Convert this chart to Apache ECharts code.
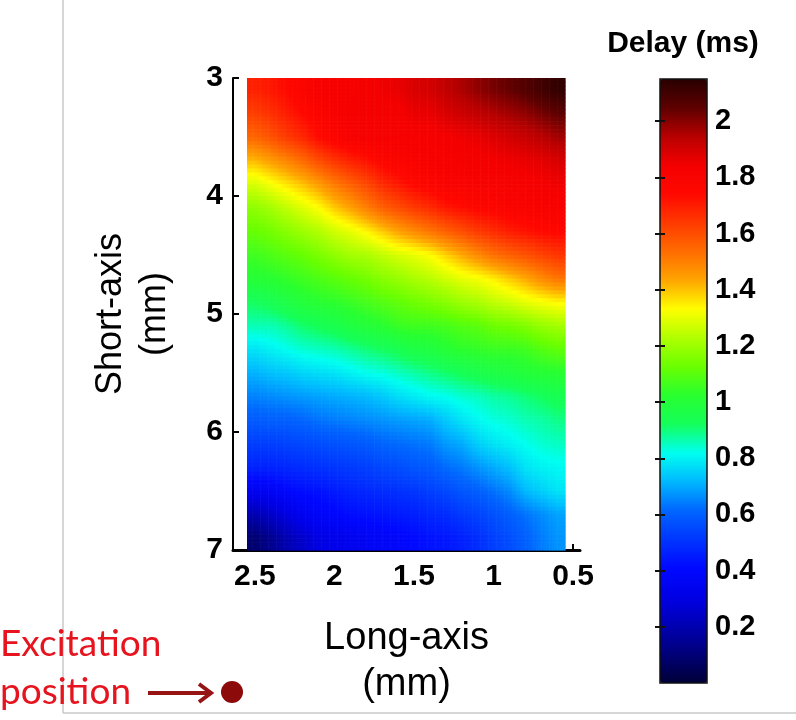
<!DOCTYPE html>
<html>
<head>
<meta charset="utf-8">
<script src="https://cdn.jsdelivr.net/npm/echarts@6/dist/echarts.min.js"></script>
<style>
html,body{margin:0;padding:0;background:#fff;}
#chart{width:796px;height:720px;}
</style>
</head>
<body>
<div id="chart"></div>
<script>
// ---- data ----
const longAxisMm = [2.5, 2.4, 2.3, 2.2, 2.1, 2.0, 1.9, 1.8, 1.7, 1.6, 1.5, 1.4, 1.3, 1.2, 1.1, 1.0, 0.9, 0.8, 0.7, 0.6];
const shortAxisMm = [3.1, 3.3, 3.5, 3.7, 3.9, 4.1, 4.3, 4.5, 4.7, 4.9, 5.1, 5.3, 5.5, 5.7, 5.9, 6.1, 6.3, 6.5, 6.7, 6.9];
// delay (ms): one row per short-axis value, one column per long-axis value
const delayMs = [
  [1.69,1.71,1.74,1.78,1.81,1.82,1.82,1.83,1.85,1.86,1.89,1.90,1.93,1.96,1.99,2.02,2.04,2.07,2.10,2.13],
  [1.63,1.66,1.70,1.74,1.78,1.81,1.83,1.83,1.83,1.83,1.86,1.86,1.89,1.91,1.93,1.95,1.97,1.99,2.02,2.05],
  [1.55,1.59,1.64,1.68,1.74,1.78,1.81,1.82,1.82,1.82,1.83,1.83,1.84,1.85,1.86,1.88,1.90,1.92,1.94,1.97],
  [1.41,1.45,1.49,1.54,1.60,1.65,1.69,1.72,1.76,1.78,1.80,1.81,1.82,1.83,1.83,1.84,1.85,1.86,1.87,1.89],
  [1.28,1.32,1.36,1.40,1.45,1.51,1.56,1.61,1.67,1.71,1.75,1.77,1.80,1.80,1.81,1.81,1.82,1.83,1.84,1.85],
  [1.18,1.21,1.25,1.29,1.33,1.39,1.44,1.50,1.56,1.60,1.64,1.67,1.71,1.73,1.75,1.76,1.78,1.79,1.80,1.81],
  [1.12,1.14,1.17,1.20,1.23,1.27,1.30,1.34,1.39,1.44,1.48,1.52,1.56,1.60,1.64,1.67,1.70,1.72,1.74,1.75],
  [1.06,1.08,1.10,1.12,1.15,1.18,1.21,1.22,1.25,1.28,1.30,1.33,1.38,1.43,1.48,1.53,1.56,1.59,1.62,1.65],
  [1.01,1.02,1.04,1.06,1.08,1.10,1.12,1.14,1.17,1.19,1.22,1.24,1.27,1.30,1.32,1.35,1.39,1.43,1.48,1.52],
  [0.92,0.94,0.97,1.00,1.02,1.03,1.05,1.07,1.09,1.11,1.13,1.15,1.17,1.20,1.22,1.25,1.27,1.30,1.32,1.34],
  [0.86,0.86,0.88,0.91,0.93,0.95,0.98,1.00,1.02,1.05,1.06,1.06,1.07,1.09,1.10,1.13,1.14,1.16,1.19,1.21],
  [0.78,0.80,0.82,0.84,0.85,0.86,0.88,0.90,0.92,0.94,0.97,0.98,1.01,1.03,1.04,1.05,1.05,1.06,1.09,1.11],
  [0.71,0.73,0.74,0.76,0.77,0.78,0.80,0.82,0.83,0.85,0.87,0.89,0.91,0.93,0.95,0.97,0.98,1.00,1.01,1.02],
  [0.65,0.66,0.67,0.68,0.69,0.70,0.71,0.72,0.74,0.77,0.79,0.81,0.82,0.84,0.85,0.87,0.88,0.90,0.92,0.94],
  [0.59,0.60,0.60,0.61,0.63,0.64,0.65,0.66,0.67,0.68,0.69,0.70,0.74,0.78,0.81,0.83,0.84,0.86,0.87,0.89],
  [0.53,0.53,0.54,0.55,0.56,0.57,0.58,0.59,0.61,0.62,0.63,0.64,0.68,0.70,0.75,0.78,0.80,0.82,0.84,0.85],
  [0.47,0.47,0.48,0.49,0.50,0.51,0.52,0.53,0.55,0.56,0.58,0.59,0.62,0.64,0.67,0.70,0.73,0.78,0.80,0.81],
  [0.35,0.37,0.40,0.42,0.43,0.45,0.47,0.48,0.49,0.50,0.51,0.53,0.55,0.58,0.60,0.63,0.66,0.72,0.75,0.78],
  [0.20,0.25,0.30,0.35,0.38,0.40,0.42,0.43,0.44,0.45,0.46,0.48,0.49,0.52,0.54,0.57,0.60,0.63,0.66,0.69],
  [0.09,0.14,0.20,0.25,0.30,0.32,0.34,0.36,0.38,0.39,0.41,0.43,0.44,0.46,0.49,0.53,0.56,0.60,0.64,0.67]
];
const xTickValues = [2.5, 2, 1.5, 1, 0.5];
const yTickValues = [3, 4, 5, 6, 7];
const colorbarTicks = [0.2, 0.4, 0.6, 0.8, 1, 1.2, 1.4, 1.6, 1.8, 2];
const delayRange = [0, 2.15];
const jetPalette = ['#000038','#000078','#0000b4','#0000e6','#0008ff','#0036ff','#0066ff','#00b8ff','#00fff0','#14ff5a','#28ff30','#6aff00','#b0ff00','#ffff00','#ffa500','#ff6c00','#ff3a00','#ff0800','#f40000','#b80000','#5e0000','#280000'];

// ---- build series data ----
const nRows = shortAxisMm.length, nCols = longAxisMm.length;
const cells = [];
for (let j = 0; j < nRows; j++) {
  for (let i = 0; i < nCols; i++) {
    cells.push([longAxisMm[i], shortAxisMm[j], delayMs[j][i], j, i]);
  }
}
const halfW = Math.abs(longAxisMm[0] - longAxisMm[1]) / 2;
const halfH = Math.abs(shortAxisMm[1] - shortAxisMm[0]) / 2;

// smooth ("interp") shading inside each cell, like MATLAB's shading interp
function shade(fj, fi) {
  fj = Math.max(0, Math.min(nRows - 1, fj));
  fi = Math.max(0, Math.min(nCols - 1, fi));
  const j0 = Math.floor(fj), i0 = Math.floor(fi);
  const j1 = Math.min(j0 + 1, nRows - 1), i1 = Math.min(i0 + 1, nCols - 1);
  const tj = fj - j0, ti = fi - i0;
  const top = (1 - ti) * delayMs[j0][i0] + ti * delayMs[j0][i1];
  const bot = (1 - ti) * delayMs[j1][i0] + ti * delayMs[j1][i1];
  return (1 - tj) * top + tj * bot;
}
function colorOf(v) {
  const t = Math.max(0, Math.min(1, (v - delayRange[0]) / (delayRange[1] - delayRange[0])));
  return echarts.color.lerp(t, jetPalette);
}
const SUB = 6;

const FONT = '"Liberation Sans", Arial, sans-serif';
const chart = echarts.init(document.getElementById('chart'), null, {renderer: 'canvas'});

chart.setOption({
  backgroundColor: '#ffffff',
  animation: false,
  title: {
    text: 'Delay (ms)',
    left: 683, top: 29, textAlign: 'center', padding: 0,
    textStyle: {fontFamily: FONT, fontSize: 30, fontWeight: 'bold', color: '#000'}
  },
  grid: [
    {left: 233, top: 78, width: 347, height: 472, show: false},
    {left: 660, top: 79, width: 47, height: 604, show: true, z: 10,
     borderColor: '#111', borderWidth: 1.5, backgroundColor: 'transparent'}
  ],
  xAxis: [
    {
      type: 'value', gridIndex: 0, min: 0.456, max: 2.638, inverse: true,
      splitLine: {show: false},
      axisLine: {show: true, onZero: false, lineStyle: {color: '#000', width: 3}},
      axisTick: {show: true, inside: true, length: 6, customValues: xTickValues, lineStyle: {color: '#000', width: 2}},
      axisLabel: {customValues: xTickValues, fontFamily: FONT, fontSize: 30, fontWeight: 'bold', color: '#000', margin: 12},
      name: 'Long-axis\n(mm)', nameLocation: 'middle', nameGap: 66,
      nameTextStyle: {fontFamily: FONT, fontSize: 38, lineHeight: 46, color: '#000'}
    },
    {
      type: 'value', gridIndex: 1, min: 0, max: 1, show: false
    }
  ],
  yAxis: [
    {
      type: 'value', gridIndex: 0, min: 3, max: 7, interval: 1, inverse: true,
      splitLine: {show: false},
      axisLine: {show: true, onZero: false, lineStyle: {color: '#000', width: 2}},
      axisTick: {show: true, inside: true, length: 6, customValues: yTickValues, lineStyle: {color: '#000', width: 2}},
      axisLabel: {customValues: yTickValues, fontFamily: FONT, fontSize: 30, fontWeight: 'bold', color: '#000', margin: 10},
      name: 'Short-axis\n(mm)', nameLocation: 'middle', nameGap: 56, nameRotate: 90,
      nameTextStyle: {fontFamily: FONT, fontSize: 36, lineHeight: 44, color: '#000'}
    },
    {
      type: 'value', gridIndex: 1, min: delayRange[0], max: delayRange[1], position: 'right', z: 11,
      splitLine: {show: false},
      axisLine: {show: false},
      axisTick: {show: true, inside: true, length: 5, customValues: colorbarTicks, lineStyle: {color: '#111', width: 2}},
      axisLabel: {customValues: colorbarTicks, fontFamily: FONT, fontSize: 29, fontWeight: 'bold', color: '#000', margin: 8}
    },
    {
      type: 'value', gridIndex: 1, min: delayRange[0], max: delayRange[1], position: 'left', z: 11,
      splitLine: {show: false},
      axisLine: {show: false},
      axisTick: {show: true, inside: true, length: 5, customValues: colorbarTicks, lineStyle: {color: '#111', width: 2}},
      axisLabel: {show: false}
    }
  ],
  visualMap: {
    type: 'continuous', min: delayRange[0], max: delayRange[1], dimension: 2, seriesIndex: 0,
    calculable: false, orient: 'vertical', left: 660, top: 79, itemWidth: 47, itemHeight: 604,
    padding: 0, text: null, showLabel: false, hoverLink: false,
    inRange: {color: jetPalette}
  },
  series: [
    {
      type: 'custom', xAxisIndex: 0, yAxisIndex: 0, data: cells, z: 2,
      renderItem: function (params, api) {
        const x = api.value(0), y = api.value(1);
        const j = api.value(3), i = api.value(4);
        const children = [];
        const stepX = 2 * halfW / SUB, stepY = 2 * halfH / SUB;
        for (let a = 0; a < SUB; a++) {
          for (let b = 0; b < SUB; b++) {
            const p0 = api.coord([x + halfW - b * stepX, y - halfH + a * stepY]);
            const p1 = api.coord([x + halfW - (b + 1) * stepX, y - halfH + (a + 1) * stepY]);
            const v = shade(j - 0.5 + (a + 0.5) / SUB, i - 0.5 + (b + 0.5) / SUB);
            children.push({
              type: 'rect',
              shape: {x: Math.min(p0[0], p1[0]), y: Math.min(p0[1], p1[1]),
                      width: Math.abs(p1[0] - p0[0]) + 0.6, height: Math.abs(p1[1] - p0[1]) + 0.6},
              style: {fill: colorOf(v), stroke: null}
            });
          }
        }
        return {type: 'group', children: children};
      }
    }
  ],
  graphic: [
    {type: 'line', shape: {x1: 63, y1: 0, x2: 63, y2: 713}, style: {stroke: '#c8c8c8', lineWidth: 1.5}, z: 1},
    {type: 'line', shape: {x1: 63, y1: 713, x2: 796, y2: 713}, style: {stroke: '#c8c8c8', lineWidth: 1.5}, z: 1},
    {type: 'text', x: 0, y: 644, style: {text: 'Excitation', font: '37px Lato, "Open Sans", sans-serif', fill: '#e6141e', verticalAlign: 'middle', align: 'left'}, z: 5},
    {type: 'text', x: 0, y: 692, style: {text: 'position', font: '37px Lato, "Open Sans", sans-serif', fill: '#e6141e', verticalAlign: 'middle', align: 'left'}, z: 5},
    {type: 'line', shape: {x1: 148, y1: 693, x2: 209, y2: 693}, style: {stroke: '#961414', lineWidth: 4}, z: 5},
    {type: 'polyline', shape: {points: [[199, 684], [211, 693], [199, 702]]}, style: {stroke: '#961414', lineWidth: 4, fill: null}, z: 5},
    {type: 'circle', shape: {cx: 232, cy: 692, r: 11}, style: {fill: '#8c0a0a'}, z: 5}
  ]
});
</script>
</body>
</html>
